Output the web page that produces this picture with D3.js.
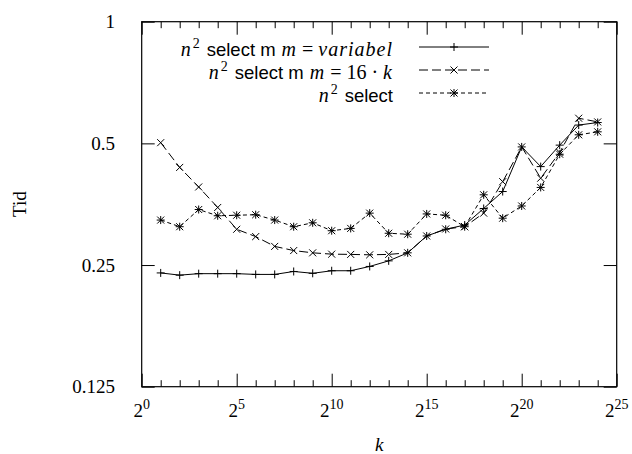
<!DOCTYPE html>
<html>
<head>
<meta charset="utf-8">
<script src="https://cdn.jsdelivr.net/npm/d3@7"></script>
<style>
  body { margin: 0; background: #fff; }
  svg { display: block; }
</style>
</head>
<body>
<div class="demo"></div>
<script>
(function() {
    // k = 2^1 .. 2^24
    var exps = d3.range(1, 25);

    // n^2 select m, m = variabel
    var variabel = [0.239, 0.236, 0.238, 0.238, 0.238, 0.237, 0.237, 0.241,
        0.2385, 0.242, 0.242, 0.248, 0.256, 0.268, 0.295, 0.3065, 0.314,
        0.345, 0.38, 0.49, 0.438, 0.495, 0.555, 0.563];

    // n^2 select m, m = 16 k
    var sixteenK = [0.502, 0.436, 0.39, 0.347, 0.3065, 0.294, 0.278, 0.2715,
        0.268, 0.266, 0.2656, 0.265, 0.2656, 0.268, 0.295, 0.307, 0.311,
        0.336, 0.402, 0.49, 0.41, 0.475, 0.577, 0.565];

    // n^2 select
    var plain = [0.323, 0.311, 0.343, 0.331, 0.332, 0.333, 0.323, 0.311,
        0.318, 0.304, 0.308, 0.336, 0.2996, 0.298, 0.3345, 0.332, 0.311,
        0.373, 0.3265, 0.35, 0.389, 0.47, 0.525, 0.534];

    var xMajor = [0, 5, 10, 15, 20, 25];
    var yTicks = [0.125, 0.25, 0.5, 1];
    var yTickLabels = ["0.125", "0.25", "0.5", "1"];

    var SERIF = "'Liberation Serif', 'DejaVu Serif', serif";
    var SANS = "'Liberation Sans', 'DejaVu Sans', sans-serif";

    var width = 632,
        height = 454;

    var left = 141.7, right = 616.7, top = 21.7, bottom = 386.7;

    var x = d3.scaleLog().base(2).domain([1, Math.pow(2, 25)]).range([left, right]);
    var y = d3.scaleLog().base(2).domain([0.125, 1]).range([bottom, top]);

    var svg = d3.select(".demo").append("svg")
        .attr("width", width)
        .attr("height", height);

    var allPow = d3.range(0, 26).map(function(e) { return Math.pow(2, e); });
    var majPow = xMajor.map(function(e) { return Math.pow(2, e); });
    var minPow = allPow.filter(function(v) { return majPow.indexOf(v) < 0; });

    function styleAxis(g) {
        g.select(".domain").remove();
        g.selectAll(".tick line").attr("stroke", "#000").attr("stroke-width", 1);
        g.selectAll(".tick text").remove();
    }

    // bottom + top ticks (inward)
    svg.append("g").attr("transform", "translate(0," + bottom + ")")
        .call(d3.axisBottom(x).tickValues(majPow).tickSize(-13)).call(styleAxis);
    svg.append("g").attr("transform", "translate(0," + bottom + ")")
        .call(d3.axisBottom(x).tickValues(minPow).tickSize(-6.5)).call(styleAxis);
    svg.append("g").attr("transform", "translate(0," + top + ")")
        .call(d3.axisTop(x).tickValues(majPow).tickSize(-13)).call(styleAxis);
    svg.append("g").attr("transform", "translate(0," + top + ")")
        .call(d3.axisTop(x).tickValues(minPow).tickSize(-6.5)).call(styleAxis);

    // left + right ticks
    svg.append("g").attr("transform", "translate(" + left + ",0)")
        .call(d3.axisLeft(y).tickValues(yTicks).tickSize(-13)).call(styleAxis);
    svg.append("g").attr("transform", "translate(" + right + ",0)")
        .call(d3.axisRight(y).tickValues(yTicks).tickSize(-13)).call(styleAxis);

    // frame
    svg.append("rect")
        .attr("x", left).attr("y", top)
        .attr("width", right - left).attr("height", bottom - top)
        .attr("fill", "none").attr("stroke", "#000").attr("stroke-width", 1.2);

    // y tick labels
    svg.selectAll(".ylab").data(yTicks).enter().append("text")
        .attr("font-family", SERIF)
        .attr("x", 115)
        .attr("y", function(d) { return y(d); })
        .attr("dy", "0.35em")
        .attr("text-anchor", "end")
        .attr("font-size", 19)
        .text(function(d, i) { return yTickLabels[i]; });

    // x tick labels 2^e
    var xl = svg.selectAll(".xlab").data(xMajor).enter().append("text")
        .attr("font-family", SERIF)
        .attr("x", function(d) { return x(Math.pow(2, d)); })
        .attr("y", 417)
        .attr("text-anchor", "middle")
        .attr("font-size", 19);
    xl.append("tspan").text("2");
    xl.append("tspan").attr("dy", -8).attr("font-size", 14)
        .text(function(d) { return d; });

    // axis titles
    svg.append("text")
        .attr("font-family", SERIF)
        .attr("transform", "translate(26," + ((top + bottom) / 2) + ") rotate(-90)")
        .attr("text-anchor", "middle")
        .attr("font-size", 19)
        .text("Tid");

    svg.append("text")
        .attr("font-family", SERIF)
        .attr("x", (left + right) / 2).attr("y", 451)
        .attr("text-anchor", "middle")
        .attr("font-size", 19).attr("font-style", "italic")
        .text("k");

    function pts(vals) {
        return vals.map(function(v, i) { return [exps[i], v]; });
    }

    var line = d3.line()
        .x(function(d) { return x(Math.pow(2, d[0])); })
        .y(function(d) { return y(d[1]); });

    function plus(g, cx, cy) {
        var s = 4;
        g.append("path")
            .attr("d", "M" + (cx - s) + "," + cy + "H" + (cx + s) + "M" + cx + "," + (cy - s) + "V" + (cy + s))
            .attr("stroke", "#000").attr("stroke-width", 1).attr("fill", "none");
    }
    function cross(g, cx, cy) {
        var s = 3.5;
        g.append("path")
            .attr("d", "M" + (cx - s) + "," + (cy - s) + "L" + (cx + s) + "," + (cy + s) +
                "M" + (cx - s) + "," + (cy + s) + "L" + (cx + s) + "," + (cy - s))
            .attr("stroke", "#000").attr("stroke-width", 1).attr("fill", "none");
    }
    function star(g, cx, cy) { plus(g, cx, cy); cross(g, cx, cy); }

    var series = [
        { vals: variabel, dash: null, mark: plus },
        { vals: sixteenK, dash: "9,4", mark: cross },
        { vals: plain, dash: "4,3", mark: star }
    ];

    series.forEach(function(s) {
        var g = svg.append("g");
        g.append("path")
            .datum(pts(s.vals))
            .attr("d", line)
            .attr("fill", "none")
            .attr("stroke", "#000")
            .attr("stroke-width", 1)
            .attr("stroke-dasharray", s.dash);
        pts(s.vals).forEach(function(d) {
            s.mark(g, x(Math.pow(2, d[0])), y(d[1]));
        });
    });

    // legend: [text, kind]  mi = math italic, rm = roman, sf = sans, sup = superscript
    var legY = [47, 70, 93];
    var legText = [
        [["n", "mi"], ["2", "sup"], ["select m", "sf"], ["m", "mi"], ["=", "op"], ["variabel", "mi"]],
        [["n", "mi"], ["2", "sup"], ["select m", "sf"], ["m", "mi"], ["=", "op"], ["16", "rm"], ["·", "op"], ["k", "mi"]],
        [["n", "mi"], ["2", "sup"], ["select", "sf"]]
    ];

    legText.forEach(function(parts, r) {
        var t = svg.append("text")
            .attr("x", 393).attr("y", legY[r] + 9)
            .attr("text-anchor", "end")
            .attr("font-family", SERIF)
            .attr("font-size", 20);
        var raised = false;
        parts.forEach(function(p, i) {
            var ts = t.append("tspan").text(p[0]);
            var gap = 0;
            if (p[1] === "mi") {
                ts.attr("font-style", "italic").attr("letter-spacing", 1);
                gap = (i > 0 && parts[i - 1][1] === "op") ? 5 : 6;
            } else if (p[1] === "op") {
                gap = 5;
            } else if (p[1] === "rm") {
                gap = 5;
            } else if (p[1] === "sf") {
                ts.attr("font-family", SANS).attr("font-size", 18.5);
                gap = 7;
            } else if (p[1] === "sup") {
                ts.attr("font-size", 14).attr("dy", -8).attr("dx", 1);
                raised = true;
                return;
            }
            if (i === 0) gap = 0;
            ts.attr("dx", gap);
            if (raised) { ts.attr("dy", 8); raised = false; }
        });

        var s = series[r];
        svg.append("line")
            .attr("x1", 419).attr("x2", 489)
            .attr("y1", legY[r]).attr("y2", legY[r])
            .attr("stroke", "#000").attr("stroke-width", 1)
            .attr("stroke-dasharray", s.dash);
        s.mark(svg, 454, legY[r]);
    });
})();
</script>
</body>
</html>
